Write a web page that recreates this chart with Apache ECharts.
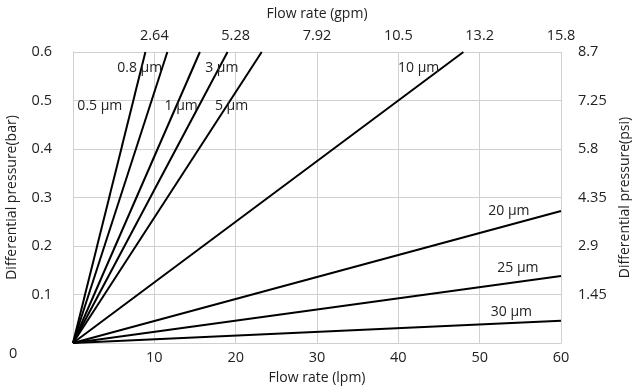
<!DOCTYPE html>
<html><head><meta charset="utf-8">
<script src="https://cdn.jsdelivr.net/npm/echarts@6/dist/echarts.min.js"></script>
<style>html,body{margin:0;padding:0;background:#fff}#c{width:632px;height:390px}</style>
</head><body><div id="c"></div>
<script>
// Data
const seriesNames = ['0.5 µm','0.8 µm','1 µm','3 µm','5 µm','10 µm','20 µm','25 µm','30 µm'];
const endFlow = [8.9, 11.6, 15.6, 19.0, 23.2, 48.0, 60, 60, 60];      // lpm at line end
const endPressure = [0.6, 0.6, 0.6, 0.6, 0.6, 0.6, 0.272, 0.138, 0.046]; // bar at line end
const gpmTicks = ['2.64','5.28','7.92','10.5','13.2','15.8'];
const psiTicks = ['1.45','2.9','4.35','5.8','7.25','8.7'];
// label anchor points (data units)
const labelFlow = [3.3, 8.2, 13.3, 18.3, 19.5, 42.5, 53.6, 54.7, 53.9];
const labelPressure = [0.489, 0.567, 0.489, 0.567, 0.489, 0.567, 0.272, 0.155, 0.064];

const FONT = 'Open Sans';
const chart = echarts.init(document.getElementById('c'));
const gridColor = '#d0d0d0';
const txt = {color:'#222', fontFamily:FONT, fontSize:14};
const tick = {color:'#222', fontFamily:FONT, fontSize:14.5};

const series = seriesNames.map((n,i)=>({
  name:n, type:'line', symbol:'none', silent:true,
  lineStyle:{color:'#000', width:2},
  data:[[0,0],[endFlow[i],endPressure[i]]],
  markPoint:{symbol:'circle', symbolSize:1, silent:true,
    itemStyle:{color:'rgba(0,0,0,0)'},
    label:{show:true, formatter:n, ...txt, position:'inside'},
    data:[{coord:[labelFlow[i],labelPressure[i]], value:n}]}
}));

chart.setOption({
  animation:false,
  grid:{left:73, right:71, top:52, bottom:47, outerBoundsMode:'none', containLabel:false},
  xAxis:[
    {type:'value', position:'bottom', min:0, max:60, interval:10,
     name:'Flow rate (lpm)', nameLocation:'middle', nameGap:28, nameTextStyle:{...txt},
     axisLine:{show:true, lineStyle:{color:gridColor}}, axisTick:{show:false},
     axisLabel:{...tick, margin:7, formatter:v=>v===0?'':String(v)},
     splitLine:{show:true, lineStyle:{color:gridColor}}},
    {type:'value', position:'top', min:0, max:60, interval:10,
     name:'Flow rate (gpm)', nameLocation:'middle', nameGap:31, nameTextStyle:{...txt},
     axisLine:{show:true, lineStyle:{color:gridColor}}, axisTick:{show:false},
     axisLabel:{...tick, margin:9, formatter:v=>v===0?'':gpmTicks[Math.round(v/10)-1]},
     splitLine:{show:false}}
  ],
  yAxis:[
    {type:'value', position:'left', min:0, max:0.6, interval:0.1,
     name:'Differential pressure(bar)', nameLocation:'middle', nameGap:54, nameTextStyle:{...txt},
     axisLine:{show:true, lineStyle:{color:gridColor}}, axisTick:{show:false},
     axisLabel:{...tick, margin:21, formatter:v=>v===0?'':v.toFixed(1)},
     splitLine:{show:true, lineStyle:{color:gridColor}}},
    {type:'value', position:'right', min:0, max:0.6, interval:0.1,
     name:'Differential pressure(psi)', nameLocation:'middle', nameGap:50, nameTextStyle:{...txt},
     axisLine:{show:true, lineStyle:{color:gridColor}}, axisTick:{show:false},
     axisLabel:{...tick, margin:17, formatter:v=>{const k=Math.round(v*10);return k===0?'':psiTicks[k-1];}},
     splitLine:{show:false}}
  ],
  graphic:[{type:'text', left:9, top:346, style:{text:'0', font:'14.5px "Open Sans"', fill:'#222'}}],
  series
});
</script></body></html>
